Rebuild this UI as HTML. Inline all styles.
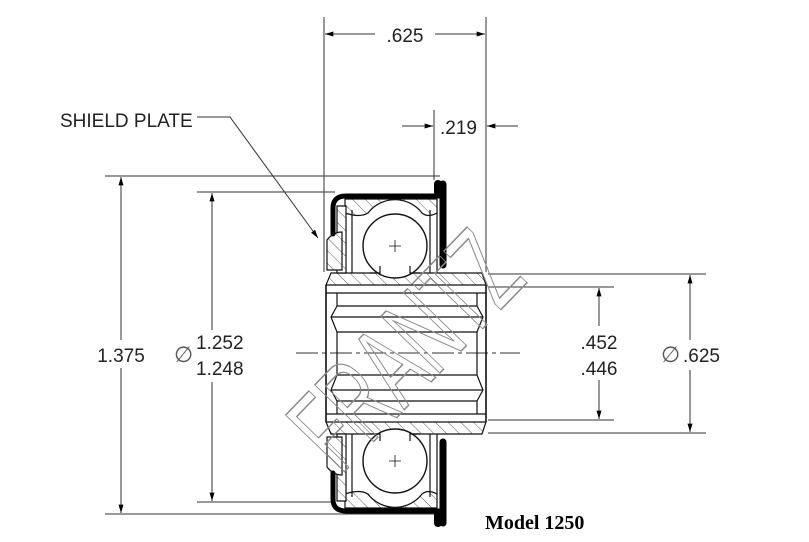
<!DOCTYPE html>
<html><head><meta charset="utf-8"><style>
html,body{margin:0;padding:0;background:#fff}
svg{display:block}
text{font-family:"Liberation Sans",sans-serif;font-size:19px;fill:#222}
</style></head><body>
<svg width="809" height="542" viewBox="0 0 809 542" xmlns="http://www.w3.org/2000/svg">
<defs>
<pattern id="h" patternUnits="userSpaceOnUse" width="9" height="9" patternTransform="rotate(-45)">
<rect width="9" height="9" fill="#fff"/><line x1="0" y1="0" x2="0" y2="9" stroke="#333" stroke-width="0.8"/>
</pattern>
<marker id="a" viewBox="0 0 10 6" refX="10" refY="3" markerWidth="14" markerHeight="5" markerUnits="userSpaceOnUse" orient="auto-start-reverse">
<path d="M0,0 L10,3 L0,6z" fill="#000"/></marker>
</defs>
<g stroke="#333" stroke-width="1" fill="none">
<line x1="324" y1="17" x2="324" y2="272"/>
<line x1="486" y1="17" x2="486" y2="272"/>
<line x1="434" y1="110" x2="434" y2="180"/>
<line x1="105" y1="176" x2="440" y2="176"/>
<line x1="197" y1="192" x2="335" y2="192"/>
<line x1="105" y1="514" x2="440" y2="514"/>
<line x1="197" y1="502" x2="335" y2="502"/>
<line x1="488" y1="274" x2="706" y2="274"/>
<line x1="488" y1="287" x2="614" y2="287"/>
<line x1="488" y1="420" x2="614" y2="420"/>
<line x1="488" y1="433" x2="706" y2="433"/>
<line x1="325" y1="34" x2="375" y2="34" marker-start="url(#a)"/>
<line x1="435" y1="34" x2="485" y2="34" marker-end="url(#a)"/>
<line x1="402" y1="126" x2="433" y2="126" marker-end="url(#a)"/>
<line x1="518" y1="126" x2="487" y2="126" marker-end="url(#a)"/>
<line x1="121" y1="177" x2="121" y2="340" marker-start="url(#a)"/>
<line x1="121" y1="368" x2="121" y2="513" marker-end="url(#a)"/>
<line x1="212" y1="193" x2="212" y2="330" marker-start="url(#a)"/>
<line x1="212" y1="382" x2="212" y2="501" marker-end="url(#a)"/>
<line x1="599" y1="288" x2="599" y2="326" marker-start="url(#a)"/>
<line x1="599" y1="380" x2="599" y2="419" marker-end="url(#a)"/>
<line x1="690" y1="275" x2="690" y2="340" marker-start="url(#a)"/>
<line x1="690" y1="370" x2="690" y2="432" marker-end="url(#a)"/>
<polyline points="197,117 230,117 318,238" marker-end="url(#a)"/>
<line x1="296" y1="353" x2="520" y2="353" stroke-dasharray="22,4,4,4"/>
</g>
<g stroke="#111" stroke-width="1.2">
<path d="M331,273 H482 L486,285 H326 Z" fill="url(#h)"/>
<path d="M331,434 H482 L486,422 H326 Z" fill="url(#h)"/>
<path d="M326,285 V422 M486,285 V422" fill="none" stroke-width="1.6"/>
<path d="M326,293 H486 M326,414 H486" fill="none"/>
<path d="M337,293 V306 L331,317 L337,332 V375 L331,390 L337,401 V414" fill="none"/>
<path d="M477,293 V306 L483,317 L477,332 V375 L483,390 L477,401 V414" fill="none"/>
<path d="M337,306 H477 M331,317 H483 M337,332 H477 M337,375 H477 M331,390 H483 M337,401 H477" fill="none"/>
<path d="M345,199 H437 V213 Q428,218 422,213 A34,34 0 0 0 368,213 Q360,218 345,213 Z" fill="url(#h)"/>
<path d="M345,508 H437 V494 Q428,489 422,494 A34,34 0 0 1 368,494 Q360,489 345,494 Z" fill="url(#h)"/>
<path d="M337,206 V273 H346 V206 Z" fill="url(#h)"/>
<path d="M337,501 V434 H346 V501 Z" fill="url(#h)"/>
<path d="M327,240 Q333,232 342,232 V270 H327 Z" fill="url(#h)"/>
<path d="M327,467 Q333,475 342,475 V437 H327 Z" fill="url(#h)"/>
<path d="M352,210 V273 M430,210 V273 M437,213 V273 M352,497 V434 M430,497 V434 M437,494 V434" fill="none"/>
<circle cx="395" cy="246" r="32" fill="#fff" stroke-width="1.4"/>
<circle cx="395" cy="461" r="32" fill="#fff" stroke-width="1.4"/>
<path d="M389,246 H401 M395,240 V252 M389,461 H401 M395,455 V467" fill="none" stroke-width="0.8"/>
<path d="M380,266 V273 H370 M410,266 V273 H420 M380,441 V434 H370 M410,441 V434 H420" fill="none"/>
</g>
<g stroke="#000" stroke-width="5" fill="none" stroke-linecap="round">
<path d="M333,234 V208 Q333,196 346,196 H440"/>
<path d="M333,473 V499 Q333,511 346,511 H440"/>
<line x1="443" y1="184" x2="443" y2="265" stroke-width="7"/>
<line x1="443" y1="523" x2="443" y2="442" stroke-width="7"/>
<line x1="438" y1="184" x2="438" y2="192" stroke-width="8"/>
<line x1="438" y1="523" x2="438" y2="515" stroke-width="8"/>
</g>
<text x="0" y="0" transform="translate(405,350) rotate(-46) scale(0.78,1.35)" text-anchor="middle" dominant-baseline="central" style="font-size:88px;fill:none;stroke:#8a8a8a;stroke-width:1.1">FRANTZ</text>
<text x="60" y="127">SHIELD PLATE</text>
<text x="405" y="42" text-anchor="middle">.625</text>
<text x="440" y="134">.219</text>
<text x="121" y="362" text-anchor="middle">1.375</text>
<text x="174" y="362" style="font-size:22px;fill:#555">∅</text>
<text x="196" y="349">1.252</text>
<text x="196" y="375">1.248</text>
<text x="599" y="349" text-anchor="middle">.452</text>
<text x="599" y="375" text-anchor="middle">.446</text>
<text x="661" y="362" style="font-size:22px;fill:#555">∅</text>
<text x="683" y="362">.625</text>
<text x="485" y="529" style="font-family:'Liberation Serif',serif;font-weight:bold;font-size:20px;fill:#000">Model 1250</text>
</svg>
</body></html>
